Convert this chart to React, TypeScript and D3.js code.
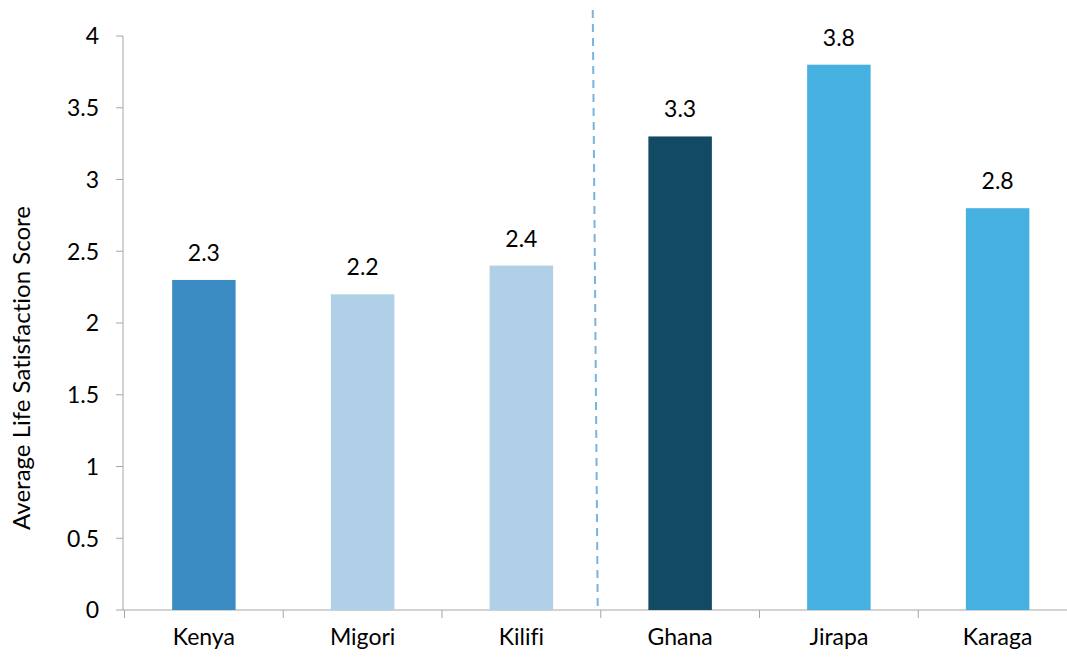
import React from "react";
import * as d3 from "d3";

const categories = ["Kenya", "Migori", "Kilifi", "Ghana", "Jirapa", "Karaga"];
const scores = [2.3, 2.2, 2.4, 3.3, 3.8, 2.8];
const barColors = ["#3c8cc4", "#b0d0e8", "#b0d0e8", "#124a63", "#46b1e1", "#46b1e1"];
const yTicks = [0, 0.5, 1, 1.5, 2, 2.5, 3, 3.5, 4];

const width = 1067;
const height = 659;
const font = "Lato, 'Open Sans', sans-serif";

export default function App() {
  const x = d3
    .scaleBand<string>()
    .domain(categories)
    .range([124.5, 1077])
    .paddingInner(0.6)
    .paddingOuter(0.3);
  const step = x.step();
  const x0 = 124.5;
  const y = d3.scaleLinear().domain([0, 4]).range([610, 36]);
  const fmt = (d: number) => (d === 0 ? "0" : String(d));
  const divider = x0 + step * 3 - 4;

  return (
    <svg
      width={width}
      height={height}
      style={{ position: "absolute", left: 0, top: 0, background: "#fff", fontVariantLigatures: "none" }}
      fontFamily={font}
    >
      {/* y axis */}
      <line x1={123} x2={123} y1={y(4)} y2={y(0)} stroke="#a6a6a6" />
      {yTicks.map((t) => (
        <g key={t}>
          <line x1={116} x2={123} y1={y(t)} y2={y(t)} stroke="#a6a6a6" />
          <text x={99} y={y(t)} dy="0.36em" textAnchor="end" fontSize={23} fill="#000">
            {fmt(t)}
          </text>
        </g>
      ))}
      <text
        transform={`translate(30,${368}) rotate(-90)`}
        textAnchor="middle"
        fontSize={24}
        fill="#000"
      >
        Average Life Satisfaction Score
      </text>

      {/* x axis */}
      <line x1={123} x2={width} y1={y(0)} y2={y(0)} stroke="#a6a6a6" />
      {d3.range(categories.length + 1).map((i) => (
        <line
          key={i}
          x1={x0 + i * step}
          x2={x0 + i * step}
          y1={y(0)}
          y2={y(0) + 8}
          stroke="#a6a6a6"
        />
      ))}
      {categories.map((c) => (
        <text
          key={c}
          x={(x(c) as number) + x.bandwidth() / 2}
          y={645}
          textAnchor="middle"
          fontSize={23}
          fill="#000"
        >
          {c}
        </text>
      ))}

      {/* bars */}
      {categories.map((c, i) => (
        <g key={c}>
          <rect
            x={x(c)}
            y={y(scores[i])}
            width={x.bandwidth()}
            height={y(0) - y(scores[i])}
            fill={barColors[i]}
          />
          <text
            x={(x(c) as number) + x.bandwidth() / 2}
            y={y(scores[i]) - 19}
            textAnchor="middle"
            fontSize={23}
            fill="#000"
          >
            {scores[i].toFixed(1)}
          </text>
        </g>
      ))}

      {/* divider between countries */}
      <line
        x1={divider - 4}
        x2={divider + 1}
        y1={10}
        y2={612}
        stroke="#7ab4dc"
        strokeWidth={2}
        strokeDasharray="8 6"
      />
    </svg>
  );
}
